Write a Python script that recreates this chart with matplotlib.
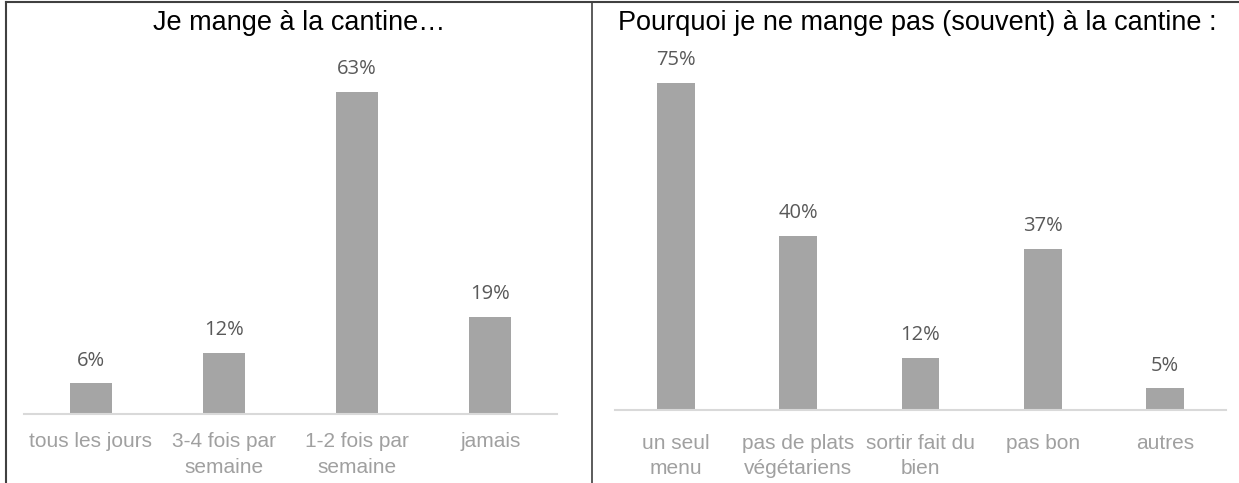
import numpy as np
import matplotlib.pyplot as plt
from matplotlib.lines import Line2D

# Data
freq_labels = ["tous les jours", "3-4 fois par\nsemaine", "1-2 fois par\nsemaine", "jamais"]
freq_values = [6, 12, 63, 19]

reason_labels = ["un seul\nmenu", "pas de plats\nvégétariens", "sortir fait du\nbien", "pas bon", "autres"]
reason_values = [75, 40, 12, 37, 5]

W, H = 1239, 483
bar_color = "#a5a5a5"
cat_color = "#a0a0a0"
val_color = "#595959"
base_color = "#d9d9d9"

fig = plt.figure(figsize=(W / 100, H / 100), dpi=100)


def px_axes(x0, x1, ybase, ytop):
    # axes placed in pixel coordinates (y measured from top)
    return fig.add_axes([x0 / W, (H - ybase) / H, (x1 - x0) / W, (ybase - ytop) / H])


def bar_panel(ax, labels, values, ymax, width, pad):
    x = np.arange(len(values))
    bars = ax.bar(x, values, width=width, color=bar_color, zorder=2)
    ax.set_xlim(-0.5, len(values) - 0.5)
    ax.set_ylim(0, ymax)
    for s in ["top", "right", "left"]:
        ax.spines[s].set_visible(False)
    ax.spines["bottom"].set_color(base_color)
    ax.spines["bottom"].set_linewidth(1.5)
    ax.set_yticks([])
    ax.set_xticks(x)
    ax.set_xticklabels(labels, fontsize=15, color=cat_color, family="Liberation Sans",
                       linespacing=1.45)
    ax.tick_params(axis="x", length=0, pad=pad)
    for b, v in zip(bars, values):
        ax.annotate("{}%".format(v), (b.get_x() + b.get_width() / 2, v),
                    xytext=(0, 9), textcoords="offset points", ha="center", va="bottom",
                    fontsize=14.5, color=val_color, family="Open Sans")
    ax.patch.set_alpha(0)


# Left chart: how often
ax1 = px_axes(24, 557, 414, 56)
bar_panel(ax1, freq_labels, freq_values, 70, 0.315, 13)
fig.text(299 / W, 1 - 23 / H, "Je mange à la cantine…", ha="center", va="center",
         fontsize=19.5, family="Liberation Sans", color="black")

# Right chart: reasons
ax2 = px_axes(615, 1226, 410, 61)
bar_panel(ax2, reason_labels, reason_values, 80, 0.31, 17)
fig.text(917 / W, 1 - 23 / H, "Pourquoi je ne mange pas (souvent) à la cantine :", ha="center",
         va="center", fontsize=19.5, family="Liberation Sans", color="black")

# frame lines
lc = "#404040"
fig.add_artist(Line2D([6 / W, 1], [1 - 2 / H, 1 - 2 / H], color=lc, lw=1.5))
fig.add_artist(Line2D([6 / W, 6 / W], [0, 1 - 2 / H], color=lc, lw=1.5))
fig.add_artist(Line2D([592 / W, 592 / W], [0, 1 - 2 / H], color=lc, lw=1.2))

plt.savefig("out.png", dpi=100)
plt.close()
